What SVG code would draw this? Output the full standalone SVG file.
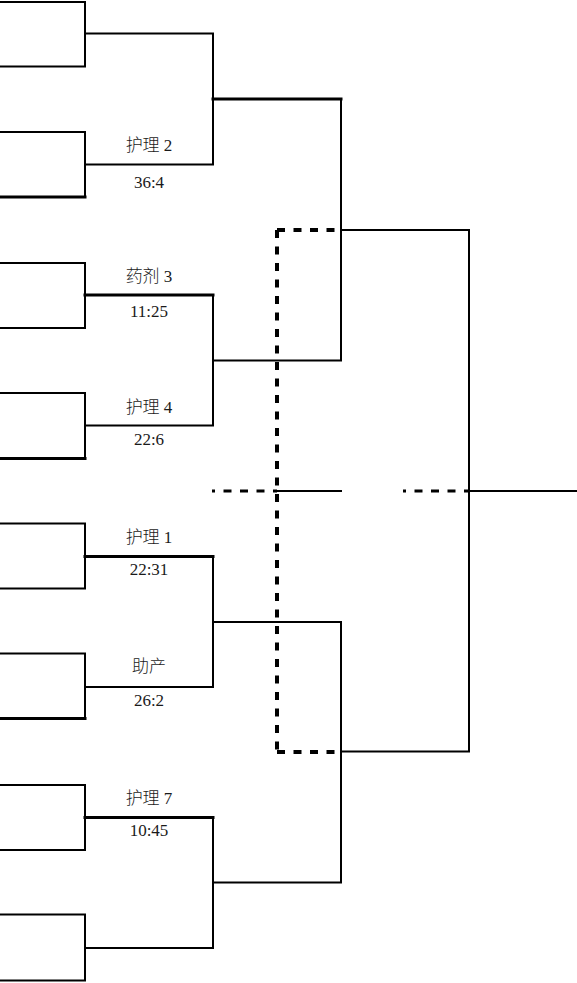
<svg xmlns="http://www.w3.org/2000/svg" width="577" height="983" viewBox="0 0 577 983">
<style>
.ln{fill:none;stroke:#000;stroke-width:2;stroke-linecap:square}
.tk{fill:none;stroke:#000;stroke-width:3;stroke-linecap:square}
.ds{fill:none;stroke:#000;stroke-width:4;stroke-dasharray:8 8.5}
.dm{fill:none;stroke:#000;stroke-width:3;stroke-dasharray:8 8.5;stroke-dashoffset:5}
text{font-family:"Liberation Serif","Noto Sans CJK SC",serif;font-size:17px;fill:#1a1a1a;text-anchor:middle;font-weight:300}
</style>
<rect width="577" height="983" fill="#fff"/>
<g id="slot1"><path class="ln" d="M0,2 H85 V66.5 H0"/></g>
<g id="slot2"><path class="ln" d="M0,132 H85 V197"/><path class="tk" d="M85,197 H0"/></g>
<g id="slot3"><path class="ln" d="M0,263 H85 V328 H0"/></g>
<g id="slot4"><path class="ln" d="M0,393 H85 V458.5"/><path class="tk" d="M85,458.5 H0"/></g>
<g id="slot5"><path class="ln" d="M0,523.5 H85 V588.5 H0"/></g>
<g id="slot6"><path class="ln" d="M0,653.5 H85 V718.5"/><path class="tk" d="M85,718.5 H0"/></g>
<g id="slot7"><path class="ln" d="M0,785 H85 V850 H0"/></g>
<g id="slot8"><path class="ln" d="M0,914.5 H85 V980.5 H0"/></g>
<g id="connectors">
<path class="ln" d="M85,33.5 H213 V164.5 H85"/>
<path class="tk" d="M213,99 H341"/>
<path class="ln" d="M341,99 V360.5 H213"/>
<path class="tk" d="M85,295 H213"/>
<path class="ln" d="M213,295 V425.5 H85"/>
<path class="ln" d="M341,230 H469 V751.5 H341"/>
<path class="tk" d="M85,556.5 H213"/>
<path class="ln" d="M213,556.5 V687 H85"/>
<path class="ln" d="M213,622 H341 V882.5 H213"/>
<path class="tk" d="M85,817.5 H213"/>
<path class="ln" d="M213,817.5 V948 H85"/>
<path class="ln" d="M277,491 H341"/>
<path class="ln" d="M469,491 H577"/>
<path class="ds" d="M277,230 H341"/>
<path class="ds" d="M277,230 V752"/>
<path class="ds" d="M277,752 H341"/>
<path class="dm" d="M212,491 H277"/>
<path class="dm" d="M403,491 H469"/>
</g>
<g id="m1"><text x="149" y="151">护理 2</text><text x="149" y="187.5">36:4</text></g>
<g id="m2"><text x="149" y="281.5">药剂 3</text><text x="149" y="317">11:25</text></g>
<g id="m3"><text x="149" y="412.5">护理 4</text><text x="149" y="445">22:6</text></g>
<g id="m4"><text x="149" y="542.5">护理 1</text><text x="149" y="575">22:31</text></g>
<g id="m5"><text x="149" y="672">助产</text><text x="149" y="705.5">26:2</text></g>
<g id="m6"><text x="149" y="804">护理 7</text><text x="149" y="835.5">10:45</text></g>
</svg>
